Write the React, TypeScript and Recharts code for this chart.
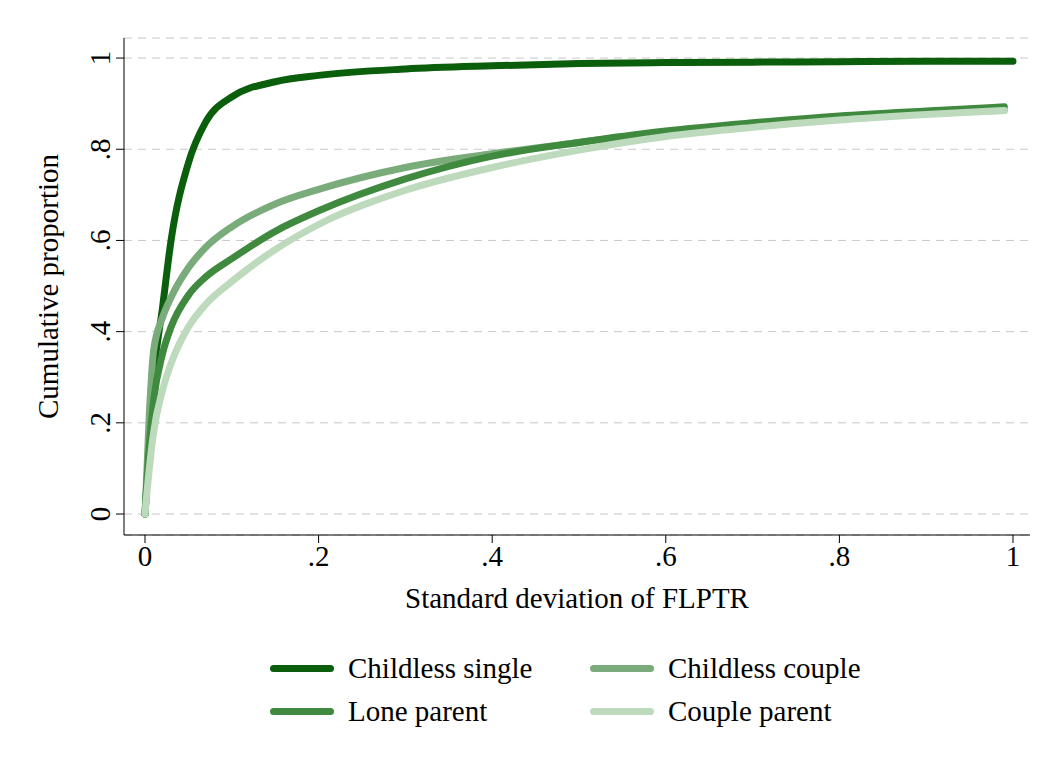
import { LineChart, Line, XAxis, YAxis, CartesianGrid } from "recharts";

const xs = [0, 0.005, 0.01, 0.02, 0.03, 0.05, 0.07, 0.1, 0.15, 0.2, 0.3, 0.4, 0.5, 0.6, 0.7, 0.8, 0.9, 0.99];
const childlessSingle = [0, 0.15, 0.3, 0.45, 0.6, 0.77, 0.86, 0.915, 0.948, 0.962, 0.976, 0.983, 0.988, 0.99, 0.991, 0.992, 0.993, 0.993];
const childlessCouple = [0, 0.22, 0.36, 0.43, 0.475, 0.54, 0.585, 0.63, 0.68, 0.712, 0.76, 0.79, 0.815, 0.838, 0.855, 0.87, 0.88, 0.885];
const loneParent = [0, 0.15, 0.25, 0.35, 0.41, 0.48, 0.52, 0.56, 0.62, 0.665, 0.735, 0.785, 0.815, 0.84, 0.858, 0.873, 0.884, 0.893];
const coupleParent = [0, 0.1, 0.18, 0.27, 0.33, 0.41, 0.46, 0.51, 0.58, 0.635, 0.71, 0.76, 0.798, 0.828, 0.848, 0.864, 0.876, 0.885];
const xTicks = [0, 0.2, 0.4, 0.6, 0.8, 1];
const yTicks = [0, 0.2, 0.4, 0.6, 0.8, 1];

const series = [
  { name: "Childless single", values: childlessSingle, color: "#0b5e0b" },
  { name: "Childless couple", values: childlessCouple, color: "#7aab7a" },
  { name: "Lone parent", values: loneParent, color: "#3f8a3f" },
  { name: "Couple parent", values: coupleParent, color: "#bddabd" },
];

const fmt = (v: number) => (v === 0 ? "0" : v === 1 ? "1" : String(v).replace(/^0/, ""));
const font = "'Liberation Serif', 'DejaVu Serif', serif";
const FS = 29;

const YTick = (props: any) => {
  const { x, y, payload } = props;
  return (
    <text x={x} y={y} transform={`rotate(-90 ${x} ${y})`} textAnchor="middle" dy={-4} fontSize={FS} fontFamily={font} fill="#000">
      {fmt(payload.value)}
    </text>
  );
};

export default function App() {
  return (
    <div style={{ position: "relative", width: 1048, height: 760, background: "#fff", fontFamily: font }}>
      <LineChart width={1048} height={620} margin={{ top: 30, right: 26, left: 0, bottom: 0 }}>
        <CartesianGrid vertical={false} stroke="#c8c8c8" strokeDasharray="8 6" />
        <XAxis
          type="number"
          dataKey="x"
          domain={[-0.0242, 1.0196]}
          ticks={xTicks}
          tickFormatter={fmt}
          allowDataOverflow
          height={93}
          stroke="#000"
          tickSize={8}
          tick={{ fontSize: FS, fontFamily: font, fill: "#000" }}
          label={{ value: "Standard deviation of FLPTR", position: "insideTop", offset: 52, fontSize: FS, fontFamily: font, fill: "#000" }}
        />
        <YAxis
          type="number"
          domain={[-0.046, 1.044]}
          ticks={yTicks}
          allowDataOverflow
          width={116}
          stroke="#000"
          tickSize={8}
          tick={<YTick />}
          label={{ value: "Cumulative proportion", angle: -90, position: "insideLeft", offset: 40, fontSize: FS, fontFamily: font, fill: "#000", style: { textAnchor: "middle" } }}
        />
        {series.map((s) => (
          <Line
            key={s.name}
            data={xs.map((x, i) => ({ x: s.name === "Childless single" && i === xs.length - 1 ? 1 : x, y: s.values[i] }))}
            dataKey="y"
            type="monotone"
            stroke={s.color}
            strokeWidth={7}
            strokeLinecap="round"
            dot={false}
            isAnimationActive={false}
          />
        ))}
      </LineChart>
      {series.map((s, i) => (
        <div
          key={s.name}
          style={{ position: "absolute", left: i % 2 === 0 ? 262 : 582, top: i < 2 ? 644 : 687, display: "flex", alignItems: "center", fontSize: FS }}
        >
          <div style={{ width: 64, height: 7, background: s.color, borderRadius: 4, marginRight: 14 }} />
          <span>{s.name}</span>
        </div>
      ))}
    </div>
  );
}
